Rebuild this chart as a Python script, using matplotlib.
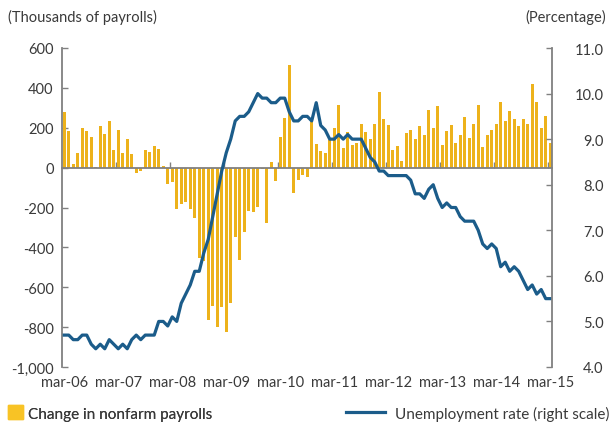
import matplotlib
matplotlib.use('Agg')
import matplotlib.pyplot as plt
from matplotlib.patches import Patch
from matplotlib.lines import Line2D
from matplotlib.ticker import FuncFormatter, MultipleLocator, FixedLocator

plt.rcParams['font.family'] = ['Lato', 'DejaVu Sans']

# monthly data, mar-06 .. mar-15
tick_labels = ['mar-06', 'mar-07', 'mar-08', 'mar-09', 'mar-10',
               'mar-11', 'mar-12', 'mar-13', 'mar-14', 'mar-15']

# change in nonfarm payrolls (thousands)
payrolls = [278, 182, 20, 71, 200, 182, 155, 5, 207, 168, 232, 86,
            187, 72, 143, 66, -27, -15, 86, 79, 109, 91, 8, -84,
            -72, -207, -180, -170, -207, -253, -451, -468, -763, -695, -797, -700,
            -822, -679, -350, -463, -322, -216, -221, -195, -7, -276, 29, -67,
            155, 248, 514, -125, -61, -35, -47, 234, 116, 84, 71, 138,
            200, 315, 99, 180, 111, 123, 221, 180, 143, 221, 379, 246,
            212, 86, 109, 34, 175, 187, 143, 207, 162, 291, 200, 308,
            111, 182, 214, 123, 162, 253, 150, 221, 315, 104, 162, 187,
            221, 328, 232, 283, 246, 207, 246, 221, 419, 328, 200, 258, 125]

# unemployment rate (%)
unemployment = [4.7, 4.7, 4.6, 4.6, 4.7, 4.7, 4.5, 4.4, 4.5, 4.4, 4.6, 4.5,
                4.4, 4.5, 4.4, 4.6, 4.7, 4.6, 4.7, 4.7, 4.7, 5.0, 5.0, 4.9,
                5.1, 5.0, 5.4, 5.6, 5.8, 6.1, 6.1, 6.5, 6.8, 7.3, 7.8, 8.3,
                8.7, 9.0, 9.4, 9.5, 9.5, 9.6, 9.8, 10.0, 9.9, 9.9, 9.8, 9.8,
                9.9, 9.9, 9.6, 9.4, 9.4, 9.5, 9.5, 9.4, 9.8, 9.3, 9.2, 9.0,
                9.0, 9.1, 9.0, 9.1, 9.0, 9.0, 9.0, 8.8, 8.6, 8.5, 8.3, 8.3,
                8.2, 8.2, 8.2, 8.2, 8.2, 8.1, 7.8, 7.8, 7.7, 7.9, 8.0, 7.7,
                7.5, 7.6, 7.5, 7.5, 7.3, 7.2, 7.2, 7.2, 7.0, 6.7, 6.6, 6.7,
                6.6, 6.2, 6.3, 6.1, 6.2, 6.1, 5.9, 5.7, 5.8, 5.6, 5.7, 5.5, 5.5]

bar_color = '#EDB21B'
line_color = '#1B5C8A'
axis_color = '#808080'
text_color = '#3a3a3a'
fs = 10.5

x = list(range(len(payrolls)))

fig = plt.figure(figsize=(6.14, 4.31), dpi=100)
ax = fig.add_axes([62/614, 1-368/431, 490/614, 319/431])
ax.bar(x, payrolls, width=0.68, color=bar_color, zorder=2)
ax.set_xlim(-0.5, 108.4)
ax.set_ylim(-1000, 600)
ax.yaxis.set_major_locator(MultipleLocator(200))
ax.yaxis.set_major_formatter(FuncFormatter(lambda v, p: f'{v:,.0f}'))
ax.tick_params(axis='y', direction='in', length=4, width=1, color=axis_color,
               labelsize=fs, labelcolor=text_color, pad=6)

# zero line with year-boundary ticks
ax.spines['bottom'].set_position(('data', 0))
ax.spines['bottom'].set_color(axis_color)
ax.spines['bottom'].set_linewidth(1.3)
ax.xaxis.set_major_locator(FixedLocator([i*12 - 0.5 for i in range(1, 10)]))
ax.tick_params(axis='x', direction='in', length=4, width=1, color=axis_color,
               labelbottom=False)
ax.spines['left'].set_color(axis_color)
ax.spines['left'].set_linewidth(1.3)
ax.spines['top'].set_visible(False)
ax.spines['right'].set_visible(False)

# month labels at the bottom
sec = ax.secondary_xaxis('bottom')
sec.set_xticks([i*12 for i in range(len(tick_labels))], tick_labels)
sec.tick_params(length=0, labelsize=fs, labelcolor=text_color, pad=6)
sec.spines['bottom'].set_visible(False)

ax2 = ax.twinx()
ax2.plot(x, unemployment, color=line_color, lw=2.3, solid_joinstyle='round')
ax2.set_ylim(4, 11)
ax2.yaxis.set_major_locator(MultipleLocator(1))
ax2.yaxis.set_major_formatter(FuncFormatter(lambda v, p: f'{v:.1f}'))
ax2.tick_params(axis='y', direction='in', length=4, width=1, color=axis_color,
                labelsize=fs, labelcolor=text_color, pad=37)
for lab in ax2.get_yticklabels():
    lab.set_horizontalalignment('right')
for s in ['top', 'bottom', 'left']:
    ax2.spines[s].set_visible(False)
ax2.spines['right'].set_color(axis_color)
ax2.spines['right'].set_linewidth(1.3)

fig.text(8/614, 1-17/431, '(Thousands of payrolls)', fontsize=fs, color=text_color,
         ha='left', va='center')
fig.text(606/614, 1-17/431, '(Percentage)', fontsize=fs, color=text_color,
         ha='right', va='center')

leg1 = fig.legend(handles=[Patch(color='#F8C325', label='Change in nonfarm payrolls')],
                  loc='center left', bbox_to_anchor=(0.0, 1-414/431), frameon=False,
                  fontsize=11, handlelength=1.0, handleheight=1.0, handletextpad=0.35,
                  borderaxespad=0, borderpad=0.5, labelcolor=text_color)
leg2 = fig.legend(handles=[Line2D([], [], color=line_color, lw=2.3,
                                  label='Unemployment rate (right scale)')],
                  loc='center left', bbox_to_anchor=(338/614, 1-414/431), frameon=False,
                  fontsize=11, handlelength=2.6, handletextpad=0.6,
                  borderaxespad=0, borderpad=0.5, labelcolor=text_color)
fig.add_artist(leg1)

fig.savefig('out.png', dpi=100)
